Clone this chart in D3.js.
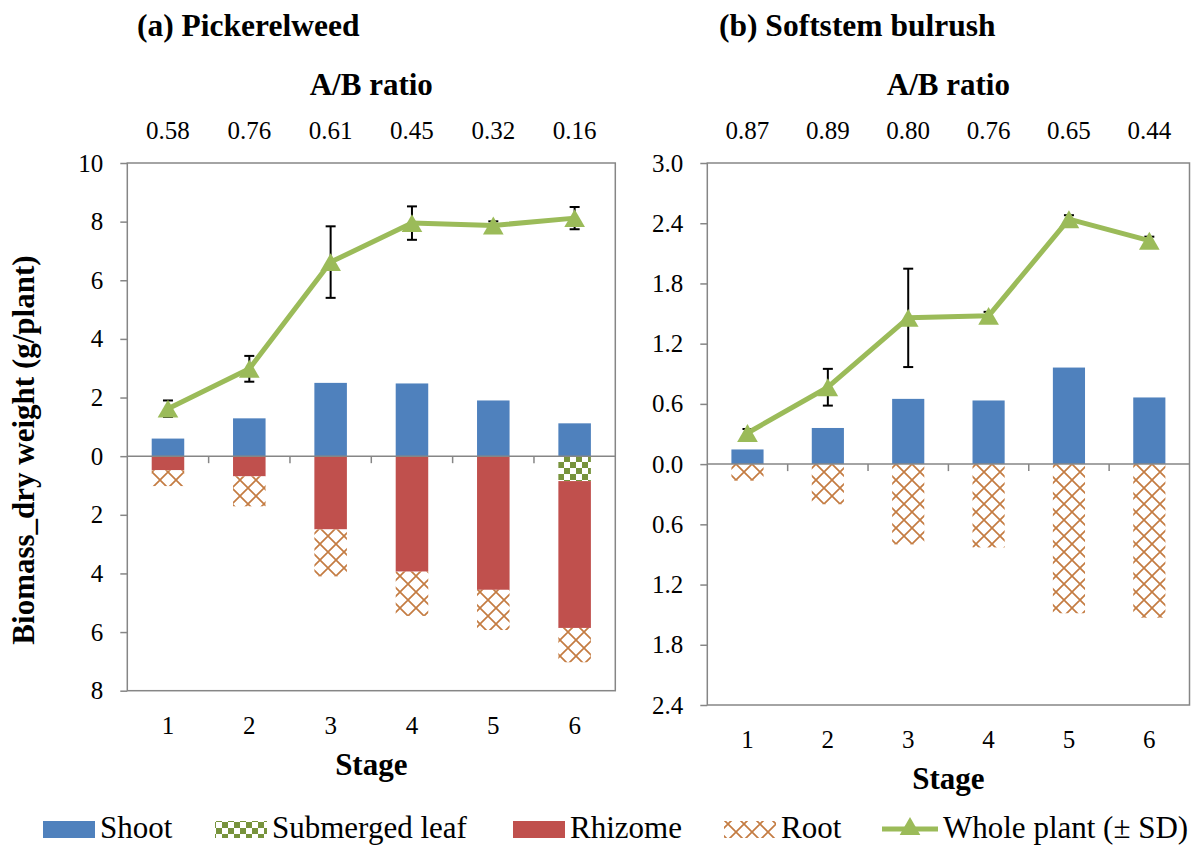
<!DOCTYPE html>
<html>
<head>
<meta charset="utf-8">
<script src="https://cdn.jsdelivr.net/npm/d3@7"></script>
<style>
  body { margin: 0; background: #fff; }
  svg { display: block; font-family: "Liberation Serif", "Times New Roman", serif; }
</style>
</head>
<body>
<script>
const stages = ["1", "2", "3", "4", "5", "6"]

// (a) Pickerelweed
const ratioA = ["0.58", "0.76", "0.61", "0.45", "0.32", "0.16"]
const shootA = [0.60, 1.29, 2.50, 2.48, 1.90, 1.12]
const submergedA = [0, 0, 0, 0, 0, 0.85]
const rhizomeA = [0.48, 0.69, 2.50, 3.94, 4.56, 5.01]
const rootA = [0.54, 1.02, 1.60, 1.51, 1.37, 1.17]
const wholeA = [1.62, 2.98, 6.62, 7.95, 7.87, 8.12]
const sdA = [0.28, 0.44, 1.22, 0.57, 0.14, 0.38]
const yTicksA = [-8, -6, -4, -2, 0, 2, 4, 6, 8, 10]

// (b) Softstem bulrush
const ratioB = ["0.87", "0.89", "0.80", "0.76", "0.65", "0.44"]
const shootB = [0.146, 0.36, 0.65, 0.634, 0.962, 0.664]
const submergedB = [0, 0, 0, 0, 0, 0]
const rhizomeB = [0, 0, 0, 0, 0, 0]
const rootB = [0.165, 0.40, 0.80, 0.83, 1.486, 1.53]
const wholeB = [0.31, 0.766, 1.457, 1.477, 2.44, 2.226]
const sdB = [0.04, 0.183, 0.49, 0.04, 0.04, 0.04]
const yTicksB = [-2.4, -1.8, -1.2, -0.6, 0, 0.6, 1.2, 1.8, 2.4, 3.0]

const legendNames = ["Shoot", "Submerged leaf", "Rhizome", "Root", "Whole plant (\u00b1 SD)"]

const w = 1198
const h = 846

const blue = "#4f81bd"
const red = "#c0504d"
const green = "#9bbb59"
const leafGreen = "#77933c"
const rootBrown = "#c47c42"
const axisGray = "#868686"

const svg = d3.select("body")
              .append("svg")
              .attr("width", w)
              .attr("height", h)

// Fill patterns for submerged leaf and root
const defs = svg.append("defs")

const leafPat = defs.append("pattern")
                    .attr("id", "leafPat")
                    .attr("patternUnits", "userSpaceOnUse")
                    .attr("width", 12)
                    .attr("height", 12)
leafPat.append("rect").attr("width", 12).attr("height", 12).attr("fill", leafGreen)
leafPat.append("rect").attr("x", 6).attr("y", 0).attr("width", 6).attr("height", 6).attr("fill", "#fff")
leafPat.append("rect").attr("x", 0).attr("y", 6).attr("width", 6).attr("height", 6).attr("fill", "#fff")

const rootPat = defs.append("pattern")
                    .attr("id", "rootPat")
                    .attr("patternUnits", "userSpaceOnUse")
                    .attr("width", 16)
                    .attr("height", 16)
rootPat.append("rect").attr("width", 16).attr("height", 16).attr("fill", "#fff")
rootPat.append("path")
       .attr("d", "M0,0L16,16M16,0L0,16M-8,8L8,-8M8,24L24,8M-8,8L8,24M8,-8L24,8")
       .attr("stroke", rootBrown)
       .attr("stroke-width", 1.7)
       .attr("fill", "none")

// triangle marker, nudged so its box (not its centroid) sits on the point
const triSize = 185
const triShift = Math.sqrt(triSize / (3 * Math.sqrt(3))) / 2

const drawPanel = (cfg) => {
  const x = d3.scaleBand()
              .domain(stages)
              .range([cfg.left, cfg.right])
              .paddingInner(0.6)
              .paddingOuter(0.3)
  const y = d3.scaleLinear()
              .domain(cfg.domain)
              .range([cfg.bottom, cfg.top])
  const bw = x.bandwidth()
  const step = x.step()
  const cx = s => x(s) + bw / 2

  const g = svg.append("g")

  // Title and A/B ratio row
  g.append("text")
   .attr("x", cfg.titleX)
   .attr("y", 36)
   .attr("font-size", 31.5)
   .attr("font-weight", "bold")
   .text(cfg.title)

  g.append("text")
   .attr("x", (cfg.left + cfg.right) / 2)
   .attr("y", 95)
   .attr("text-anchor", "middle")
   .attr("font-size", 31)
   .attr("font-weight", "bold")
   .text("A/B ratio")

  g.selectAll(".ratio")
   .data(stages)
   .enter()
   .append("text")
   .attr("x", s => cx(s))
   .attr("y", 139)
   .attr("text-anchor", "middle")
   .attr("font-size", 25)
   .text((s, i) => cfg.ratio[i])

  // Above-ground bars
  g.selectAll(".shoot")
   .data(stages)
   .enter()
   .append("rect")
   .attr("x", s => x(s))
   .attr("width", bw)
   .attr("y", (s, i) => y(cfg.shoot[i]))
   .attr("height", (s, i) => y(0) - y(cfg.shoot[i]))
   .attr("fill", blue)

  // Below-ground stack: submerged leaf, rhizome, root
  const below = [
    { vals: cfg.submerged, fill: "url(#leafPat)" },
    { vals: cfg.rhizome, fill: red },
    { vals: cfg.root, fill: "url(#rootPat)" }
  ]
  stages.forEach((s, i) => {
    let base = 0
    below.forEach(part => {
      const v = part.vals[i]
      if (v > 0) {
        g.append("rect")
         .attr("x", x(s))
         .attr("width", bw)
         .attr("y", y(-base))
         .attr("height", y(-(base + v)) - y(-base))
         .attr("fill", part.fill)
      }
      base += v
    })
  })

  // Plot frame
  g.append("rect")
   .attr("x", cfg.left)
   .attr("y", cfg.top)
   .attr("width", cfg.right - cfg.left)
   .attr("height", cfg.bottom - cfg.top)
   .attr("fill", "none")
   .attr("stroke", axisGray)
   .attr("stroke-width", 1.5)

  // Y axis
  const yAxis = g.append("g")
                 .attr("transform", `translate(${cfg.left},0)`)
                 .call(d3.axisLeft(y)
                         .tickValues(cfg.ticks)
                         .tickSize(7)
                         .tickPadding(17)
                         .tickFormat(cfg.fmt))
  yAxis.select(".domain").remove()
  yAxis.selectAll("line").attr("stroke", axisGray).attr("stroke-width", 1.5)
  yAxis.selectAll("text")
       .attr("font-size", 25)
       .attr("font-family", "Liberation Serif")
       .attr("fill", "#000")

  // Zero line with category boundary ticks
  g.append("line")
   .attr("x1", cfg.left)
   .attr("x2", cfg.right)
   .attr("y1", y(0))
   .attr("y2", y(0))
   .attr("stroke", axisGray)
   .attr("stroke-width", 1.5)
  g.selectAll(".xtick")
   .data(stages.slice(0, -1))
   .enter()
   .append("line")
   .attr("x1", s => cx(s) + step / 2)
   .attr("x2", s => cx(s) + step / 2)
   .attr("y1", y(0))
   .attr("y2", y(0) + 7)
   .attr("stroke", axisGray)
   .attr("stroke-width", 1.5)

  // Category labels below plot
  g.selectAll(".xlab")
   .data(stages)
   .enter()
   .append("text")
   .attr("x", s => cx(s))
   .attr("y", cfg.bottom + 43)
   .attr("text-anchor", "middle")
   .attr("font-size", 25)
   .text(s => s)

  g.append("text")
   .attr("x", (cfg.left + cfg.right) / 2)
   .attr("y", cfg.bottom + 84)
   .attr("text-anchor", "middle")
   .attr("font-size", 31)
   .attr("font-weight", "bold")
   .text("Stage")

  // Error bars
  const eb = g.append("g").attr("stroke", "#000").attr("stroke-width", 2)
  stages.forEach((s, i) => {
    const top = y(cfg.whole[i] + cfg.sd[i])
    const bot = y(cfg.whole[i] - cfg.sd[i])
    eb.append("line").attr("x1", cx(s)).attr("x2", cx(s)).attr("y1", top).attr("y2", bot)
    eb.append("line").attr("x1", cx(s) - 5).attr("x2", cx(s) + 5).attr("y1", top).attr("y2", top)
    eb.append("line").attr("x1", cx(s) - 5).attr("x2", cx(s) + 5).attr("y1", bot).attr("y2", bot)
  })

  // Whole plant line
  const line = d3.line()
                 .x(d => cx(d.s))
                 .y(d => y(d.v))
  const pts = stages.map((s, i) => ({ s: s, v: cfg.whole[i] }))
  g.append("path")
   .datum(pts)
   .attr("d", line)
   .attr("fill", "none")
   .attr("stroke", green)
   .attr("stroke-width", 5)
   .attr("stroke-linejoin", "round")
  g.selectAll(".marker")
   .data(pts)
   .enter()
   .append("path")
   .attr("d", d3.symbol().type(d3.symbolTriangle).size(triSize))
   .attr("transform", d => `translate(${cx(d.s)},${y(d.v) + triShift})`)
   .attr("fill", green)
}

drawPanel({
  title: "(a) Pickerelweed", titleX: 137,
  left: 127.3, right: 615.3, top: 163, bottom: 690.7,
  domain: [-8, 10], ticks: yTicksA, fmt: d => Math.abs(d),
  ratio: ratioA, shoot: shootA, submerged: submergedA, rhizome: rhizomeA,
  root: rootA, whole: wholeA, sd: sdA
})

drawPanel({
  title: "(b) Softstem bulrush", titleX: 719,
  left: 707.3, right: 1189.5, top: 163, bottom: 705,
  domain: [-2.4, 3.0], ticks: yTicksB, fmt: d => Math.abs(d).toFixed(1),
  ratio: ratioB, shoot: shootB, submerged: submergedB, rhizome: rhizomeB,
  root: rootB, whole: wholeB, sd: sdB
})

// Shared y label
svg.append("text")
   .attr("transform", "translate(33.5,450) rotate(-90)")
   .attr("text-anchor", "middle")
   .attr("font-size", 31)
   .attr("font-weight", "bold")
   .text("Biomass_dry weight (g/plant)")

// Legend
const legendX = [43, 215, 513, 724, 882]
const legendBase = 838
const legend = svg.append("g")
const swatchFills = [blue, "url(#leafPat)", red, "url(#rootPat)"]
legendNames.forEach((name, i) => {
  const lx = legendX[i]
  if (i < 4) {
    legend.append("rect")
          .attr("x", lx)
          .attr("y", legendBase - 17)
          .attr("width", 52)
          .attr("height", 17)
          .attr("fill", swatchFills[i])
  } else {
    legend.append("line")
          .attr("x1", lx)
          .attr("x2", lx + 56)
          .attr("y1", legendBase - 9)
          .attr("y2", legendBase - 9)
          .attr("stroke", green)
          .attr("stroke-width", 5)
    legend.append("path")
          .attr("d", d3.symbol().type(d3.symbolTriangle).size(triSize))
          .attr("transform", `translate(${lx + 28},${legendBase - 9})`)
          .attr("fill", green)
  }
  legend.append("text")
        .attr("x", lx + (i < 4 ? 57 : 61))
        .attr("y", legendBase)
        .attr("font-size", 31)
        .text(name)
})
</script>
</body>
</html>
